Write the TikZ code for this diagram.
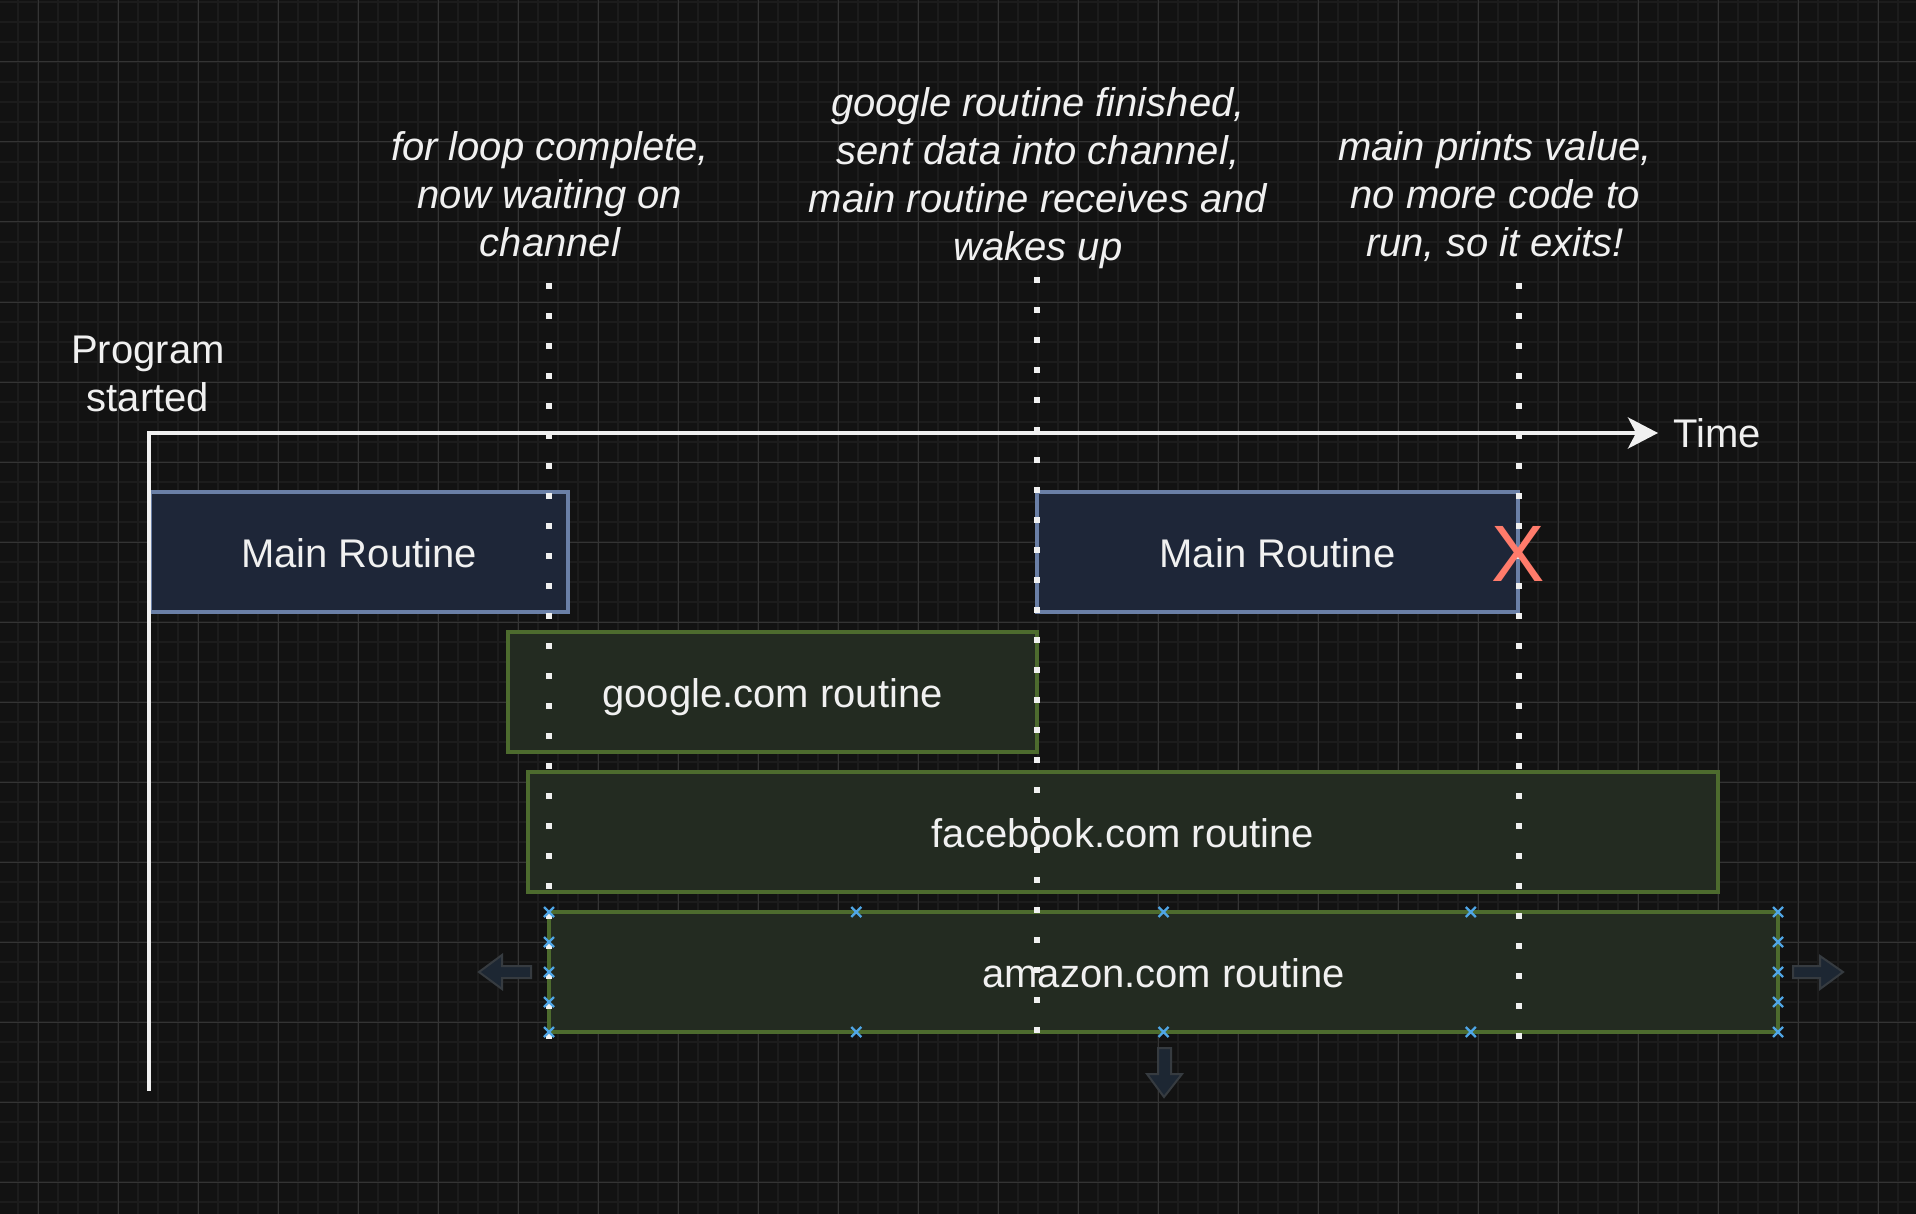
\documentclass[tikz,border=0pt]{standalone}
\usepackage{fontspec}
\setmainfont{Liberation Sans}
\usetikzlibrary{arrows.meta}
\definecolor{bg}{HTML}{121212}
\definecolor{gridminor}{HTML}{1C1C1C}
\definecolor{gridmajor}{HTML}{343434}
\definecolor{fg}{HTML}{F0F0F0}
\definecolor{bluefill}{HTML}{1E2638}
\definecolor{bluestroke}{HTML}{6A7FA6}
\definecolor{greenfill}{HTML}{232B21}
\definecolor{greenstroke}{HTML}{4D6B2E}
\definecolor{redx}{HTML}{FF7B6B}
\definecolor{markblue}{HTML}{4FA6E6}
\definecolor{ghostfill}{HTML}{1D2733}
\definecolor{ghoststroke}{HTML}{363B40}
\tikzset{
  lbl/.style={text=fg, inner sep=0pt, font=\fontsize{20}{24}\selectfont},
  note/.style={text=fg, inner sep=0pt, align=center, font=\fontsize{20}{24}\selectfont\itshape},
  box/.style={line width=2pt, inner sep=0pt, text height=15pt, text depth=0pt,
    minimum height=60pt, text=fg, font=\fontsize{20}{24}\selectfont},
  mainbox/.style={box, fill=bluefill, draw=bluestroke},
  gobox/.style={box, fill=greenfill, draw=greenstroke},
  dotline/.style={draw=fg, line width=3pt, dash pattern=on 3pt off 12pt},
  axis/.style={draw=fg, line width=2pt},
  ghost/.style={fill=ghostfill, draw=ghoststroke, line width=1pt},
  mk/.style={draw=markblue, line width=1.2pt},
}
\begin{document}
\begin{tikzpicture}[x=0.5pt,y=-0.5pt]
\useasboundingbox (0,0) rectangle (1916,1214);
\fill[bg] (0,0) rectangle (1916,1214);
% grid
\foreach \x in {18,38,...,1916} \draw[gridminor, line width=1pt] (\x,0) -- (\x,1214);
\foreach \y in {2,22,...,1214} \draw[gridminor, line width=1pt] (0,\y) -- (1916,\y);
\foreach \x in {38,118,...,1916} \draw[gridmajor, line width=0.5pt] (\x,0) -- (\x,1214);
\foreach \y in {62,142,...,1214} \draw[gridmajor, line width=0.5pt] (0,\y) -- (1916,\y);

% annotations
\node[note] (n1) at (550,199) {\strut for loop complete,\\now waiting on\\channel\strut};
\node[note] (n2) at (1038,178.5) {\strut google routine finished,\\sent data into channel,\\main routine receives and\\wakes up\strut};
\node[note] (n3) at (1495,199) {\strut main prints value,\\no more code to\\run, so it exits!\strut};
\node[lbl, align=center] (start) at (148,378) {\strut Program\\started\strut};

% boxes
\node[mainbox, minimum width=209pt] (m1) at (359,552) {Main Routine};
\node[mainbox, minimum width=240.5pt] (m2) at (1277.5,552) {Main Routine};
\node[gobox, minimum width=264.5pt] (goog) at (772.5,692) {google.com routine};
\node[gobox, minimum width=595pt] (fb) at (1123,832) {facebook.com routine};
\node[gobox, minimum width=614.5pt] (amz) at (1163.5,972) {amazon.com routine};

% axis
\coordinate (axbot) at (149,1091);
\coordinate (origin) at (149,433);
\coordinate (axend) at (1658,433);
\draw[axis, -{Stealth[length=15pt, width=15.5pt, inset=4pt]}] (axbot) -- (origin) -- (axend);
\node[lbl, anchor=base west] (time) at (1673,447) {Time};

% dotted time markers
\coordinate (d1a) at (549,283); \coordinate (d1b) at (549,1040);
\coordinate (d2a) at (1037,277); \coordinate (d2b) at (1037,1034);
\coordinate (d3a) at (1519,283); \coordinate (d3b) at (1519,1040);
\draw[dotline] (d1a) -- (d1b);
\draw[dotline] (d2a) -- (d2b);
\draw[dotline] (d3a) -- (d3b);

% exit mark
\node[text=redx, inner sep=0pt, anchor=base, font=\fontsize{40}{48}\selectfont] (exitx) at (1518,581) {X};

% ghost arrows
\draw[ghost] (531,966) -- (502,966) -- (502,955) -- (479,972) -- (502,989) -- (502,978) -- (531,978) -- cycle;
\draw[ghost] (1793,966) -- (1820,966) -- (1820,956) -- (1843,972) -- (1820,989) -- (1820,978) -- (1793,978) -- cycle;
\draw[ghost] (1158,1048) -- (1158,1074) -- (1147,1074) -- (1164,1097) -- (1182,1074) -- (1171,1074) -- (1171,1048) -- cycle;

% selection markers
\foreach \x in {549,856.25,1163.5,1470.75,1778} {
  \foreach \y in {912,1032} {
    \draw[mk] (\x-5,\y-5) -- (\x+5,\y+5) (\x-5,\y+5) -- (\x+5,\y-5);
  }
}
\foreach \x in {549,1778} {
  \foreach \y in {942,972,1002} {
    \draw[mk] (\x-5,\y-5) -- (\x+5,\y+5) (\x-5,\y+5) -- (\x+5,\y-5);
  }
}
\end{tikzpicture}
\end{document}
